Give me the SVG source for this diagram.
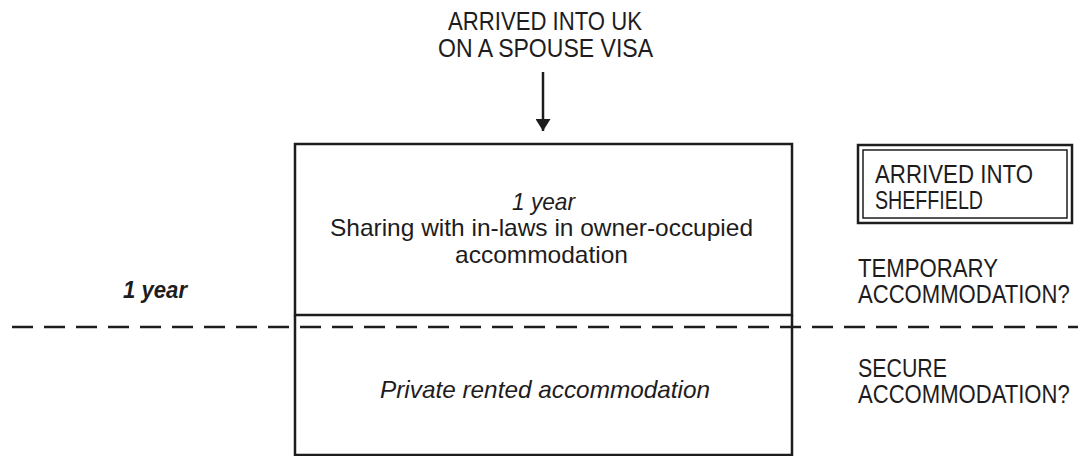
<svg xmlns="http://www.w3.org/2000/svg" width="1078" height="456" viewBox="0 0 1078 456">
  <style>
    text { font-family: "Liberation Sans", Arial, sans-serif; fill: #1e1c1d; }
    .cap { font-size: 25.5px; }
    .body { font-size: 24px; }
    .it { font-style: italic; }
    .bi { font-style: italic; font-weight: bold; }
    .box { fill: none; stroke: #1e1c1d; stroke-width: 2.5; }
    .line { stroke: #1e1c1d; stroke-width: 2.5; fill: none; }
  </style>
  <defs>
    <marker id="arrow" viewBox="0 0 12 15" refX="12" refY="7.5" markerWidth="12" markerHeight="15" markerUnits="userSpaceOnUse" orient="auto">
      <path d="M0,0 L12,7.5 L0,15 Z" fill="#1e1c1d"/>
    </marker>
  </defs>
  <rect width="1078" height="456" fill="#ffffff"/>

  <g id="start">
    <text class="cap" x="448" y="30" textLength="194" lengthAdjust="spacingAndGlyphs">ARRIVED INTO UK</text>
    <text class="cap" x="438" y="57" textLength="215" lengthAdjust="spacingAndGlyphs">ON A SPOUSE VISA</text>
  </g>

  <g id="connectors">
    <line class="line" x1="543" y1="72" x2="543" y2="131" marker-end="url(#arrow)"/>
    <line class="line" x1="12" y1="327" x2="1078" y2="327" stroke-dasharray="21 11"/>
  </g>

  <g id="in-laws">
    <rect class="box" x="295" y="144" width="497" height="171"/>
    <text class="body it" x="512" y="210" textLength="63" lengthAdjust="spacingAndGlyphs">1 year</text>
    <text class="body" x="330" y="236" textLength="423" lengthAdjust="spacingAndGlyphs">Sharing with in-laws in owner-occupied</text>
    <text class="body" x="455" y="263" textLength="173" lengthAdjust="spacingAndGlyphs">accommodation</text>
  </g>

  <g id="private-rented">
    <path class="box" d="M295,315 L295,455 L792,455 L792,315"/>
    <text class="body it" x="380" y="398" textLength="330" lengthAdjust="spacingAndGlyphs">Private rented accommodation</text>
  </g>

  <g id="duration">
    <text class="body bi" x="123" y="298" textLength="64" lengthAdjust="spacingAndGlyphs">1 year</text>
  </g>

  <g id="sheffield">
    <rect x="858" y="145" width="214" height="78" fill="none" stroke="#1e1c1d" stroke-width="2.5"/>
    <rect x="863" y="150" width="204" height="68" fill="none" stroke="#1e1c1d" stroke-width="1.5"/>
    <text class="cap" x="875" y="183" textLength="158" lengthAdjust="spacingAndGlyphs">ARRIVED INTO</text>
    <text class="cap" x="875" y="209" textLength="108" lengthAdjust="spacingAndGlyphs">SHEFFIELD</text>
  </g>

  <g id="temporary">
    <text class="cap" x="858" y="277" textLength="140" lengthAdjust="spacingAndGlyphs">TEMPORARY</text>
    <text class="cap" transform="translate(858,303) scale(0.866,1)" x="0" y="0">ACCOMMODATION?</text>
  </g>

  <g id="secure">
    <text class="cap" x="858" y="377" textLength="89" lengthAdjust="spacingAndGlyphs">SECURE</text>
    <text class="cap" transform="translate(858,403) scale(0.866,1)" x="0" y="0">ACCOMMODATION?</text>
  </g>
</svg>
